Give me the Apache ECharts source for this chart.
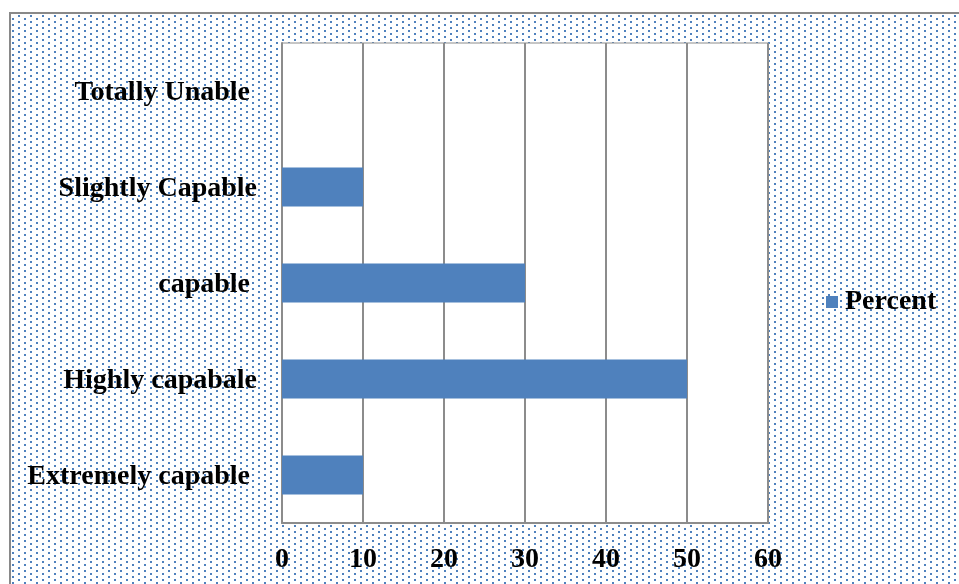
<!DOCTYPE html>
<html>
<head>
<meta charset="utf-8">
<script src="https://cdn.jsdelivr.net/npm/echarts@6/dist/echarts.min.js"></script>
<style>
  html, body { margin: 0; padding: 0; background: #fff; }
  #chart { width: 959px; height: 584px; }
</style>
</head>
<body>
<div id="chart"></div>
<script>
// Response categories, listed bottom to top as the category axis draws them
const categories = ['Extremely capable ', 'Highly capabale', 'capable ', 'Slightly Capable', 'Totally Unable '];
// Share of respondents (%) per category
const percentValues = [10, 50, 30, 10, 0];
const seriesName = 'Percent';
// Value axis range
const axisMin = 0, axisMax = 60, axisStep = 10;

const FONT = 'Liberation Serif, Times New Roman, serif';
const BLUE = '#4F81BD';
const GRID_GRAY = '#8c8c8c';

// Small dotted tile used to fill the chart frame
function dotTile() {
  const c = document.createElement('canvas');
  c.width = 12; c.height = 6;
  const ctx = c.getContext('2d');
  ctx.fillStyle = '#fff';
  ctx.fillRect(0, 0, 12, 6);
  ctx.fillStyle = '#4F81BD';
  ctx.fillRect(0, 0, 2, 2);
  ctx.fillRect(6, 3, 2, 2);
  return c;
}

const chart = echarts.init(document.getElementById('chart'), null, { renderer: 'canvas' });
chart.setOption({
  animation: false,
  backgroundColor: '#fff',
  graphic: [{
    type: 'rect',
    z: -10,
    shape: { x: 10, y: 13, width: 980, height: 600 },
    style: { fill: { image: dotTile(), repeat: 'repeat' }, stroke: '#898989', lineWidth: 2 }
  }],
  grid: {
    left: 282, top: 43, width: 486, height: 480,
    show: true, backgroundColor: '#fff', borderColor: GRID_GRAY, borderWidth: 1
  },
  legend: {
    data: [seriesName],
    left: 826, top: 288, padding: 0,
    icon: 'rect', itemWidth: 12, itemHeight: 12, itemGap: 5,
    textStyle: { fontFamily: FONT, fontWeight: 'bold', fontSize: 28, color: '#000', padding: [0, 0, 0, 2] }
  },
  xAxis: {
    type: 'value',
    min: axisMin, max: axisMax, interval: axisStep,
    axisLine: { show: true, lineStyle: { color: GRID_GRAY, width: 2 } },
    axisTick: { show: false },
    splitLine: { show: true, lineStyle: { color: GRID_GRAY, width: 2 } },
    axisLabel: { margin: 23, fontFamily: FONT, fontWeight: 'bold', fontSize: 28, color: '#000' }
  },
  yAxis: {
    type: 'category',
    data: categories,
    axisLine: { show: true, lineStyle: { color: GRID_GRAY, width: 2 } },
    axisTick: { show: false },
    splitLine: { show: false },
    axisLabel: {
      margin: 25,
      formatter: (v) => '{c|' + v + '}',
      rich: {
        c: { fontFamily: FONT, fontWeight: 'bold', fontSize: 28, color: '#000', lineHeight: 32, verticalAlign: 'bottom' }
      }
    }
  },
  series: [{
    name: seriesName,
    type: 'bar',
    data: percentValues,
    barWidth: 39,
    itemStyle: { color: BLUE }
  }]
});
</script>
</body>
</html>
